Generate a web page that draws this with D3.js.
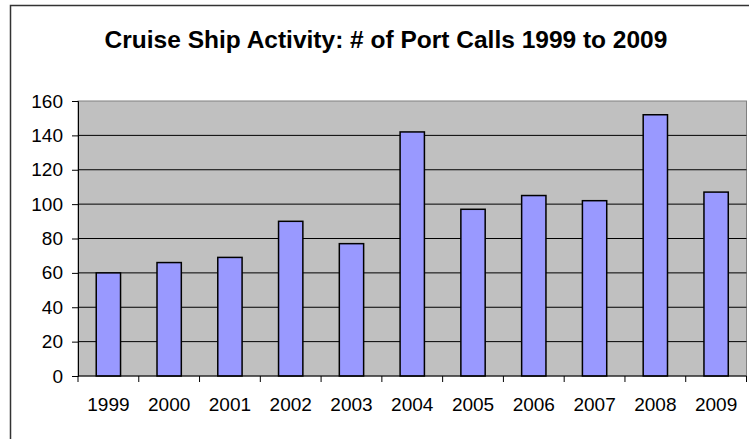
<!DOCTYPE html>
<html>
<head>
<meta charset="utf-8">
<script src="https://cdn.jsdelivr.net/npm/d3@7"></script>
<style>
  body { margin: 0; background: #fff; }
  svg { display: block; font-family: Arial, "Liberation Sans", sans-serif; }
</style>
</head>
<body>
<div id="chart"></div>
<script>
const years = ["1999", "2000", "2001", "2002", "2003", "2004", "2005", "2006", "2007", "2008", "2009"];
const portCalls = [60, 66, 69, 90, 77, 142, 97, 105, 102, 152, 107];
const yTicks = [0, 20, 40, 60, 80, 100, 120, 140, 160];

const width = 749;
const height = 439;
const margin = { top: 101, left: 78, bottom: 63, right: 2.5 };
const iwidth = width - margin.left - margin.right;
const iheight = height - margin.top - margin.bottom;

const svg = d3.select("#chart").append("svg")
  .attr("width", width)
  .attr("height", height);

// outer chart border (runs off the right and bottom)
svg.append("rect")
  .attr("x", 10.5).attr("y", 5.5)
  .attr("width", width + 10).attr("height", height + 10)
  .attr("fill", "none")
  .attr("stroke", "#333")
  .attr("stroke-width", 1.5);

svg.append("text")
  .attr("x", 386).attr("y", 47.5)
  .attr("text-anchor", "middle")
  .style("font-size", "24.5px")
  .style("font-weight", "bold")
  .text("Cruise Ship Activity: # of Port Calls 1999 to 2009");

const g = svg.append("g")
  .attr("transform", `translate(${margin.left},${margin.top})`);

const y = d3.scaleLinear().domain([0, 160]).range([iheight, 0]);
const x = d3.scaleBand().domain(years).range([0, iwidth])
  .paddingInner(0.6).paddingOuter(0.3);
const xCat = d3.scaleBand().domain(years).range([0, iwidth]);

g.append("rect")
  .attr("width", iwidth).attr("height", iheight)
  .attr("fill", "#c0c0c0")
  .attr("stroke", "#808080");

g.selectAll(".grid")
  .data(yTicks.filter((d) => d > 0 && d < 160))
  .enter().append("line")
  .attr("class", "grid")
  .attr("x1", 0).attr("x2", iwidth)
  .attr("y1", (d) => y(d)).attr("y2", (d) => y(d))
  .attr("stroke", "#000");

g.selectAll(".bar")
  .data(portCalls)
  .enter().append("rect")
  .attr("class", "bar")
  .attr("x", (d, i) => x(years[i]))
  .attr("y", (d) => y(d))
  .attr("width", x.bandwidth())
  .attr("height", (d) => iheight - y(d))
  .attr("fill", "#9999ff")
  .attr("stroke", "#000")
  .attr("stroke-width", 1.5);

const yAxis = g.append("g")
  .call(d3.axisLeft(y).tickValues(yTicks).tickSize(6).tickPadding(9));

const xAxis = g.append("g")
  .attr("transform", `translate(0,${iheight})`)
  .call(d3.axisBottom(xCat).tickSize(0).tickPadding(35));

// category boundary ticks
xAxis.selectAll(".bound")
  .data(years.concat("end"))
  .enter().append("line")
  .attr("class", "bound")
  .attr("x1", (d, i) => i * xCat.step()).attr("x2", (d, i) => i * xCat.step())
  .attr("y1", 0).attr("y2", 6)
  .attr("stroke", "#000");

[yAxis, xAxis].forEach((a) => {
  a.select(".domain").attr("stroke", "#000");
  a.selectAll("text").style("font-size", "19px").attr("fill", "#000")
    .style("font-family", "Arial, 'Liberation Sans', sans-serif");
  a.selectAll(".tick line").attr("stroke", "#000");
});
xAxis.select(".domain").attr("d", `M0,0H${iwidth}`);
xAxis.selectAll(".tick text").attr("dy", "0");
</script>
</body>
</html>
